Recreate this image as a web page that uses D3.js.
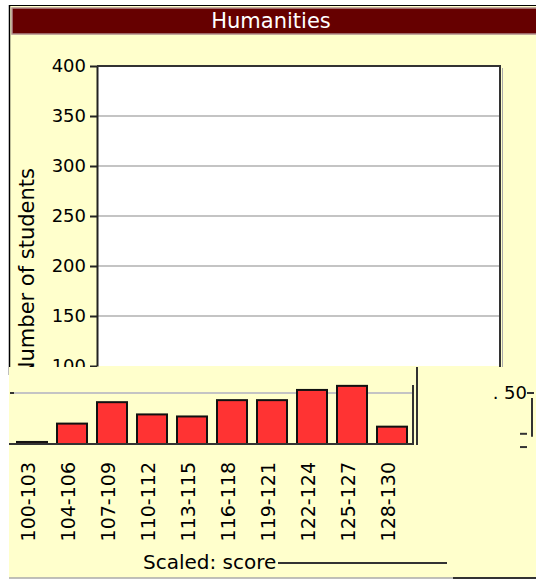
<!DOCTYPE html>
<html lang="en">
<head>
<meta charset="UTF-8">
<title>Humanities</title>
<script src="https://d3js.org/d3.v7.min.js"></script>
<style>
  body { margin: 0; background: #fff; }
  svg text { font-family: "DejaVu Sans", sans-serif; fill: #000; }
</style>
</head>
<body>
<script>
const bins     = ["100-103", "104-106", "107-109", "110-112", "113-115",
                  "116-118", "119-121", "122-124", "125-127", "128-130"];
const students = [2, 20, 41, 29, 27, 43, 43, 53, 57, 17];
const topTicks = [100, 150, 200, 250, 300, 350, 400];
const lowTicks = [50];

const width  = 536;
const height = 580;
const split  = 367;   // where the lower strip of the picture starts

const svg = d3.select("body")
    .append("svg")
    .attr("width", width)
    .attr("height", height);

// panel + header
svg.append("rect")
    .attr("x", 9).attr("y", 5)
    .attr("width", 560).attr("height", 573)
    .attr("fill", "#ffffcc");

svg.append("line").attr("x1", 9).attr("x2", width).attr("y1", 5.5).attr("y2", 5.5)
    .attr("stroke", "#000");
svg.append("line").attr("x1", 9.5).attr("x2", 9.5).attr("y1", 5).attr("y2", 375)
    .attr("stroke", "#000").attr("stroke-width", 1.5);

svg.append("rect")
    .attr("x", 12).attr("y", 8)
    .attr("width", 560).attr("height", 26)
    .attr("fill", "#660000")
    .attr("stroke", "#b08c8c")
    .attr("stroke-width", 1.5);

svg.append("text")
    .attr("x", 271).attr("y", 28)
    .attr("text-anchor", "middle")
    .style("fill", "#fff")
    .style("font-size", "21px")
    .text("Humanities");

// ---------- upper part: empty plot 100..400 ----------
svg.append("clipPath").attr("id", "clipTop")
    .append("rect").attr("x", 0).attr("y", 0).attr("width", width).attr("height", split);

const upper = svg.append("g").attr("clip-path", "url(#clipTop)");

const yTop = d3.scaleLinear().domain([100, 400]).range([366, 66]);

upper.append("rect")
    .attr("x", 97).attr("y", yTop(400))
    .attr("width", 403).attr("height", yTop(100) - yTop(400))
    .attr("fill", "#fff");

upper.selectAll(".grid")
    .data(topTicks.filter(d => d > 100 && d < 400))
    .join("line")
    .attr("x1", 97).attr("x2", 500)
    .attr("y1", d => yTop(d)).attr("y2", d => yTop(d))
    .attr("stroke", "#c4c4c4")
    .attr("stroke-width", 2);

const yAxis = upper.append("g")
    .attr("transform", "translate(97,0)")
    .call(d3.axisLeft(yTop).tickValues(topTicks).tickSize(7).tickSizeOuter(0).tickPadding(4));
yAxis.select(".domain").attr("stroke", "#222").attr("stroke-width", 2);
yAxis.selectAll(".tick line").attr("stroke", "#222").attr("stroke-width", 2);
yAxis.selectAll("text").style("font-size", "18px").style("font-family", "DejaVu Sans");

upper.append("path")
    .attr("d", "M97," + yTop(400) + "H500V" + split)
    .attr("fill", "none").attr("stroke", "#333").attr("stroke-width", 2);
upper.append("line").attr("x1", 502.5).attr("x2", 502.5).attr("y1", yTop(400) + 2).attr("y2", split)
    .attr("stroke", "#aaa");

upper.append("text")
    .attr("transform", "translate(34,168) rotate(-90)")
    .attr("text-anchor", "end")
    .style("font-size", "21px")
    .text("Number of students");

// ---------- lower strip: the bars ----------
svg.append("clipPath").attr("id", "clipLow")
    .append("rect").attr("x", 0).attr("y", split).attr("width", width).attr("height", height - split);

const low = svg.append("g").attr("clip-path", "url(#clipLow)");

low.append("rect")
    .attr("x", 9).attr("y", split)
    .attr("width", width).attr("height", 578 - split)
    .attr("fill", "#ffffcc");

const x = d3.scaleBand()
    .domain(bins)
    .range([12, 412])
    .paddingInner(0.25)
    .paddingOuter(0.125);

const y = d3.scaleLinear().domain([0, 50]).range([444, 393]);

low.selectAll(".grid")
    .data(lowTicks)
    .join("line")
    .attr("x1", 10).attr("x2", 413)
    .attr("y1", d => y(d)).attr("y2", d => y(d))
    .attr("stroke", "#c4c4c4")
    .attr("stroke-width", 2);

low.selectAll(".stub")
    .data(lowTicks)
    .join("line")
    .attr("x1", 10).attr("x2", 14)
    .attr("y1", d => y(d)).attr("y2", d => y(d))
    .attr("stroke", "#333").attr("stroke-width", 2);

low.selectAll(".bar")
    .data(students)
    .join("rect")
    .attr("x", (d, i) => x(bins[i]))
    .attr("y", d => y(d))
    .attr("width", x.bandwidth())
    .attr("height", d => y(0) - y(d))
    .attr("fill", "#ff3333")
    .attr("stroke", "#111")
    .attr("stroke-width", 2);

low.append("line").attr("x1", 9).attr("x2", 414).attr("y1", y(0)).attr("y2", y(0))
    .attr("stroke", "#333").attr("stroke-width", 2);
low.append("line").attr("x1", 413).attr("x2", 413).attr("y1", 385).attr("y2", y(0))
    .attr("stroke", "#333").attr("stroke-width", 2);
low.append("line").attr("x1", 417).attr("x2", 417).attr("y1", split).attr("y2", y(0) + 1)
    .attr("stroke", "#333").attr("stroke-width", 2);

low.selectAll(".xlab")
    .data(bins)
    .join("text")
    .attr("transform", d => "translate(" + (x(d) + x.bandwidth() / 2 + 3) + ",462) rotate(-90)")
    .attr("text-anchor", "end")
    .style("font-size", "19px")
    .text(d => d);

low.append("text")
    .attr("x", 143).attr("y", 569)
    .style("font-size", "20px")
    .text("Scaled: score");
low.append("line").attr("x1", 278).attr("x2", 447).attr("y1", 563).attr("y2", 563)
    .attr("stroke", "#333").attr("stroke-width", 2);

// stray axis piece on the right
low.selectAll(".rlab")
    .data(lowTicks)
    .join("text")
    .attr("x", 527).attr("y", d => y(d))
    .attr("dy", "0.35em")
    .attr("text-anchor", "end")
    .style("font-size", "18px")
    .text(d => ". " + d);
low.append("line").attr("x1", 527).attr("x2", 534).attr("y1", y(50)).attr("y2", y(50))
    .attr("stroke", "#333").attr("stroke-width", 2);
low.append("line").attr("x1", 532).attr("x2", 532).attr("y1", y(45)).attr("y2", y(7))
    .attr("stroke", "#333").attr("stroke-width", 2);
low.selectAll(".dash")
    .data([10, -3])
    .join("line")
    .attr("x1", 520).attr("x2", 527)
    .attr("y1", d => y(d)).attr("y2", d => y(d))
    .attr("stroke", "#333").attr("stroke-width", 2);

// bottom edge
svg.append("line").attr("x1", 9).attr("x2", 453).attr("y1", 578).attr("y2", 578)
    .attr("stroke", "#aaa").attr("stroke-width", 1.5);
svg.append("line").attr("x1", 453).attr("x2", width).attr("y1", 578).attr("y2", 578)
    .attr("stroke", "#333").attr("stroke-width", 2);
</script>
</body>
</html>
